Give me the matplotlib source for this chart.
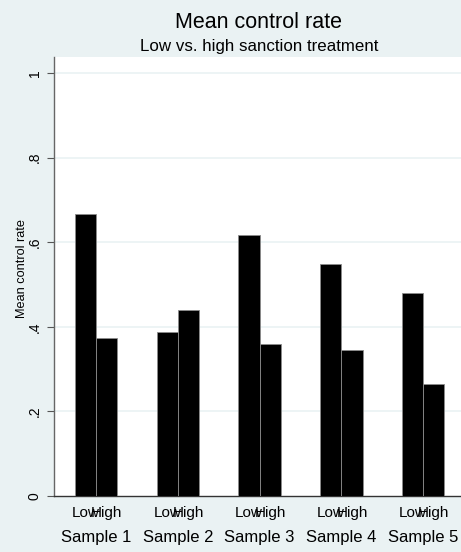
"""Mean control rate bar chart — low vs. high sanction treatment (Stata-style)."""

import numpy as np
import matplotlib.pyplot as plt
from matplotlib import transforms

plt.rcParams["font.family"] = ["Liberation Sans", "DejaVu Sans"]

BG = "#EAF2F3"

samples = ["Sample 1", "Sample 2", "Sample 3", "Sample 4", "Sample 5"]
treatments = ["Low", "High"]
low_rate = [0.667, 0.387, 0.618, 0.548, 0.479]
high_rate = [0.373, 0.441, 0.359, 0.346, 0.266]
y_ticks = [0, 0.2, 0.4, 0.6, 0.8, 1.0]
y_tick_labels = ["0", ".2", ".4", ".6", ".8", "1"]


def main():
    fig = plt.figure(figsize=(4.61, 5.52), dpi=100, facecolor=BG)
    ax = fig.add_axes([0.118, 0.1014, 0.882, 0.7953])
    ax.set_facecolor("white")

    x = np.arange(len(samples))
    w = 0.26
    ax.bar(x - w / 2, low_rate, width=w, color="black", edgecolor="#8c8c8c",
           linewidth=0.6, zorder=3)
    ax.bar(x + w / 2, high_rate, width=w, color="black", edgecolor="#8c8c8c",
           linewidth=0.6, zorder=3)

    ax.set_xlim(-0.512, 4.464)
    ax.set_ylim(0, 1.038)

    # y axis
    ax.set_yticks(y_ticks)
    ax.set_yticklabels(y_tick_labels, rotation=90, va="center", fontsize=10)
    ax.tick_params(axis="y", length=5, width=0.8, color="#555555", pad=4)
    for yt in y_ticks[1:]:
        ax.axhline(yt, color=BG, linewidth=1.2, zorder=1)
    ax.set_ylabel("Mean control rate", fontsize=9.2)
    ax.yaxis.set_label_coords(-0.064, 0.519)

    # x axis: treatment labels under each bar, sample label under each group
    pos = np.concatenate([x - w / 2, x + w / 2])
    labs = [treatments[0]] * len(x) + [treatments[1]] * len(x)
    ax.set_xticks(pos)
    ax.set_xticklabels(labs, fontsize=11)
    ax.tick_params(axis="x", length=0, pad=7)
    trans = transforms.blended_transform_factory(ax.transData, ax.transAxes)
    for xi, s in zip(x, samples):
        ax.text(xi, -0.095, s, transform=trans, ha="center", va="center",
                fontsize=12)

    for side in ["top", "right"]:
        ax.spines[side].set_visible(False)
    ax.spines["left"].set_color("#666666")
    ax.spines["left"].set_linewidth(1.0)
    ax.spines["bottom"].set_color("#333333")
    ax.spines["bottom"].set_linewidth(1.0)

    fig.text(0.56, 0.960, "Mean control rate", ha="center", va="center",
             fontsize=15.5)
    fig.text(0.562, 0.915, "Low vs. high sanction treatment", ha="center",
             va="center", fontsize=12.2)

    fig.savefig("out.png", dpi=100, facecolor=BG)


if __name__ == "__main__":
    main()
